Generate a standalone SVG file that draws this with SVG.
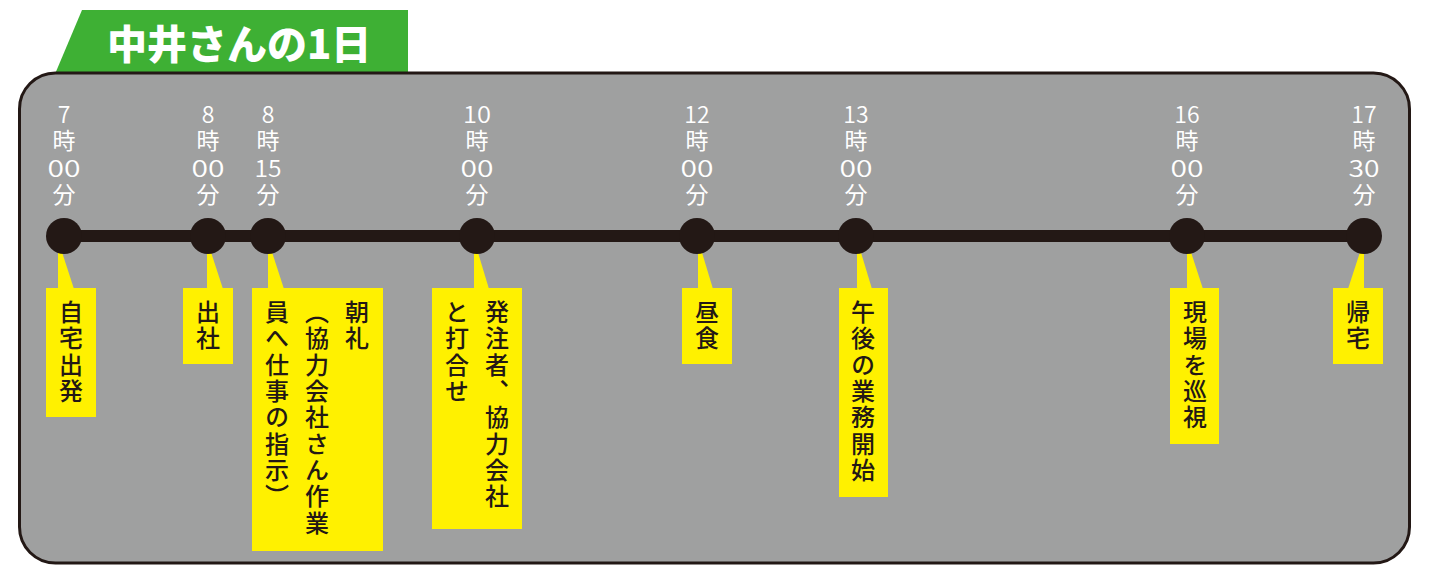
<svg xmlns="http://www.w3.org/2000/svg" width="1433" height="573" viewBox="0 0 1433 573">
<style>
.time{font-family:"Noto Sans CJK JP","Noto Sans",sans-serif;font-size:23px;fill:#ffffff;text-anchor:middle;font-weight:400}
.num{font-family:"Noto Sans CJK JP","Noto Sans",sans-serif;font-size:23px;fill:#ffffff;text-anchor:middle;font-weight:350}
.dot{fill:#231815}
.box{fill:#fff100}
.lbl{font-family:"Noto Sans CJK JP",sans-serif;font-size:24px;fill:#231815;writing-mode:vertical-rl;letter-spacing:2.3px;font-weight:500}
</style>
<rect x="0" y="0" width="1433" height="573" fill="#ffffff"/>
<g id="title">
<polygon points="82,10 408,10 408,74 55,74" fill="#3eb034"/>
<text x="107" y="59" font-family="'Noto Sans CJK JP',sans-serif" font-size="40" font-weight="900" fill="#ffffff">中井さんの1日</text>
</g>
<g id="panel">
<rect x="19.5" y="73" width="1390" height="490" rx="36" ry="36" fill="#9fa0a0" stroke="#231815" stroke-width="3"/>
</g>
<g id="connectors">
<line x1="64" y1="236" x2="1364" y2="236" stroke="#231815" stroke-width="12"/>
</g>
<g id="n1">
<text class="num" x="64" y="123">7</text><text class="time" x="64" y="149">時</text><text class="num" x="64" y="177" textLength="33" lengthAdjust="spacingAndGlyphs">00</text><text class="time" x="64" y="203">分</text>
<polygon class="box" points="58,246 60,246 74,289 58,289"/>
<rect class="box" x="46" y="288" width="50" height="129"/>
<circle class="dot" cx="64" cy="236" r="18"/>
<text class="lbl" x="71" y="300">自宅出発</text>
</g>
<g id="n2">
<text class="num" x="208" y="123">8</text><text class="time" x="208" y="149">時</text><text class="num" x="208" y="177" textLength="33" lengthAdjust="spacingAndGlyphs">00</text><text class="time" x="208" y="203">分</text>
<polygon class="box" points="207,246 209,246 223,289 207,289"/>
<rect class="box" x="183" y="288" width="50" height="76"/>
<circle class="dot" cx="208" cy="236" r="18"/>
<text class="lbl" x="208" y="300">出社</text>
</g>
<g id="n3">
<text class="num" x="268" y="123">8</text><text class="time" x="268" y="149">時</text><text class="num" x="268" y="177" textLength="27" lengthAdjust="spacingAndGlyphs">15</text><text class="time" x="268" y="203">分</text>
<polygon class="box" points="268,246 270,246 284,289 268,289"/>
<rect class="box" x="252" y="288" width="131" height="263"/>
<circle class="dot" cx="268" cy="236" r="18"/>
<text class="lbl" x="357" y="300">朝礼</text>
<text class="lbl" x="317" y="300">（協力会社さん作業</text>
<text class="lbl" x="277" y="300">員へ仕事の指示）</text>
</g>
<g id="n4">
<text class="num" x="477" y="123" textLength="28" lengthAdjust="spacingAndGlyphs">10</text><text class="time" x="477" y="149">時</text><text class="num" x="477" y="177" textLength="33" lengthAdjust="spacingAndGlyphs">00</text><text class="time" x="477" y="203">分</text>
<polygon class="box" points="474,246 476,246 489,289 474,289"/>
<rect class="box" x="432" y="288" width="90" height="241"/>
<circle class="dot" cx="477" cy="236" r="18"/>
<text class="lbl" x="497" y="300">発注者、協力会社</text>
<text class="lbl" x="457" y="300">と打合せ</text>
</g>
<g id="n5">
<text class="num" x="697" y="123">12</text><text class="time" x="697" y="149">時</text><text class="num" x="697" y="177" textLength="33" lengthAdjust="spacingAndGlyphs">00</text><text class="time" x="697" y="203">分</text>
<polygon class="box" points="698,246 700,246 713,289 698,289"/>
<rect class="box" x="682" y="288" width="50" height="76"/>
<circle class="dot" cx="697" cy="236" r="18"/>
<text class="lbl" x="707" y="300">昼食</text>
</g>
<g id="n6">
<text class="num" x="856" y="123">13</text><text class="time" x="856" y="149">時</text><text class="num" x="856" y="177" textLength="33" lengthAdjust="spacingAndGlyphs">00</text><text class="time" x="856" y="203">分</text>
<polygon class="box" points="857,246 859,246 872,289 857,289"/>
<rect class="box" x="839" y="288" width="49" height="209"/>
<circle class="dot" cx="856" cy="236" r="18"/>
<text class="lbl" x="863" y="300">午後の業務開始</text>
</g>
<g id="n7">
<text class="num" x="1187" y="123">16</text><text class="time" x="1187" y="149">時</text><text class="num" x="1187" y="177" textLength="33" lengthAdjust="spacingAndGlyphs">00</text><text class="time" x="1187" y="203">分</text>
<polygon class="box" points="1187,246 1189,246 1203,289 1187,289"/>
<rect class="box" x="1170" y="288" width="49" height="156"/>
<circle class="dot" cx="1187" cy="236" r="18"/>
<text class="lbl" x="1195" y="300">現場を巡視</text>
</g>
<g id="n8">
<text class="num" x="1364" y="123">17</text><text class="time" x="1364" y="149">時</text><text class="num" x="1364" y="177" textLength="31" lengthAdjust="spacingAndGlyphs">30</text><text class="time" x="1364" y="203">分</text>
<polygon class="box" points="1362,246 1364,246 1364,289 1348,289"/>
<rect class="box" x="1333" y="288" width="50" height="76"/>
<circle class="dot" cx="1364" cy="236" r="18"/>
<text class="lbl" x="1358" y="300">帰宅</text>
</g>
</svg>
